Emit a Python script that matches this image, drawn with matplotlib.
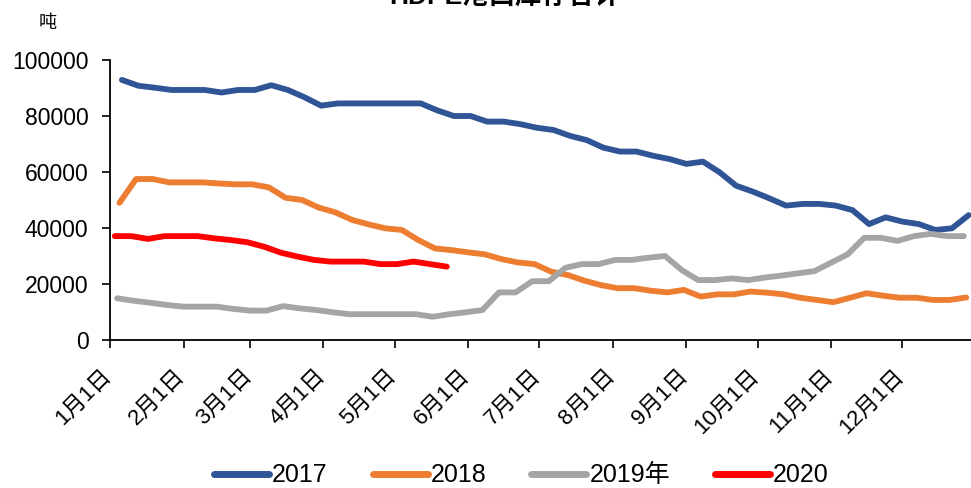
import numpy as np
import pandas as pd
import matplotlib
matplotlib.use("Agg")
import matplotlib.pyplot as plt
from matplotlib.transforms import ScaledTranslation

plt.rcParams['font.family'] = ['Liberation Sans', 'Noto Sans CJK SC', 'DejaVu Sans']

# weekly (friday) inventory, tonnes
v2017 = [92900, 90800, 90100, 89300, 89300, 89300, 88400, 89300, 89300, 91000,
         89300, 86700, 83700, 84500, 84500, 84500, 84500, 84500, 84500, 82000,
         80000, 80000, 78000, 78000, 77100, 75800, 75000, 72900, 71400, 68700,
         67300, 67300, 65800, 64600, 62900, 63700, 59900, 55100, 53000, 50600,
         48000, 48600, 48600, 48000, 46400, 41400, 43800, 42300, 41400, 39300,
         39900, 44600]
v2018 = [49000, 57500, 57500, 56300, 56300, 56300, 55900, 55600, 55600, 54500,
         50800, 50000, 47300, 45600, 42900, 41300, 39900, 39300, 35700, 32700,
         32100, 31300, 30600, 28900, 27700, 27100, 24400, 23200, 21200, 19600,
         18500, 18500, 17600, 17000, 17900, 15500, 16300, 16300, 17300, 16900,
         16300, 15100, 14300, 13500, 15100, 16700, 15800, 15100, 15100, 14300,
         14300, 15200]
v2019 = [14900, 14000, 13300, 12500, 11900, 11900, 11900, 11100, 10500, 10500,
         12100, 11300, 10700, 9900, 9200, 9200, 9200, 9200, 9200, 8300,
         9200, 9900, 10700, 17000, 17000, 21000, 21000, 25800, 27100, 27100,
         28600, 28600, 29400, 30000, 25000, 21400, 21400, 22000, 21400, 22300,
         23000, 23800, 24600, 27600, 30600, 36500, 36500, 35400, 37100, 37900,
         37100, 37100]
v2020 = [37100, 37100, 36100, 37100, 37100, 37100, 36300, 35700, 34900, 33300,
         31200, 29800, 28600, 28000, 28000, 28000, 27100, 27100, 28000, 27100,
         26200]

first_dates = ['2017-01-06', '2018-01-05', '2019-01-04', '2020-01-03']
labels = ['2017', '2018', '2019年', '2020']
colors = ['#2F5597', '#ED7D31', '#A5A5A5', '#FF0000']

month_days = [0, 31, 59, 90, 120, 151, 181, 212, 243, 273, 304, 334]
month_labels = [f'{m}月1日' for m in range(1, 13)]

fig = plt.figure(figsize=(9.71, 4.88), dpi=100)
ax = fig.add_axes([0.1133, 0.3033, 0.8867, 0.5737])

for vals, d0, lab, c in zip([v2017, v2018, v2019, v2020], first_dates, labels, colors):
    dates = pd.date_range(d0, periods=len(vals), freq='7D')
    x = dates.dayofyear - 1
    ax.plot(x, vals, color=c, lw=4.2, label=lab, solid_capstyle='round')

ax.set_xlim(0, 363)
ax.set_ylim(0, 100000)
ax.set_yticks(np.arange(0, 100001, 20000))
ax.set_xticks(month_days)
ax.set_xticklabels(month_labels, rotation=45, ha='right', rotation_mode='anchor',
                   fontsize=16)
ax.tick_params(axis='y', labelsize=16.5, length=6, width=1.2, pad=9.5)
ax.tick_params(axis='x', length=6, width=1.2, pad=12)
shift = ScaledTranslation(-9 / 100, 0, fig.dpi_scale_trans)
for t in ax.get_xticklabels():
    t.set_transform(t.get_transform() + shift)
for s in ['top', 'right']:
    ax.spines[s].set_visible(False)
for s in ['left', 'bottom']:
    ax.spines[s].set_linewidth(1.3)

fig.text(48 / 971, 1 - 23 / 488, '吨', fontsize=13, family=['Noto Sans CJK SC'],
         va='center', ha='center')
fig.text(0.52, 1 - 9 / 488, 'HDPE港口库存合计', fontsize=19, fontweight='bold',
         ha='center', va='bottom')

leg = fig.legend(loc='center', bbox_to_anchor=(0.537, 0.026), ncol=4, frameon=False,
                 fontsize=18, handlelength=2.2, handletextpad=0.12, columnspacing=1.8)
for h in leg.legend_handles:
    h.set_linewidth(5)

fig.savefig('out.png', dpi=100)
